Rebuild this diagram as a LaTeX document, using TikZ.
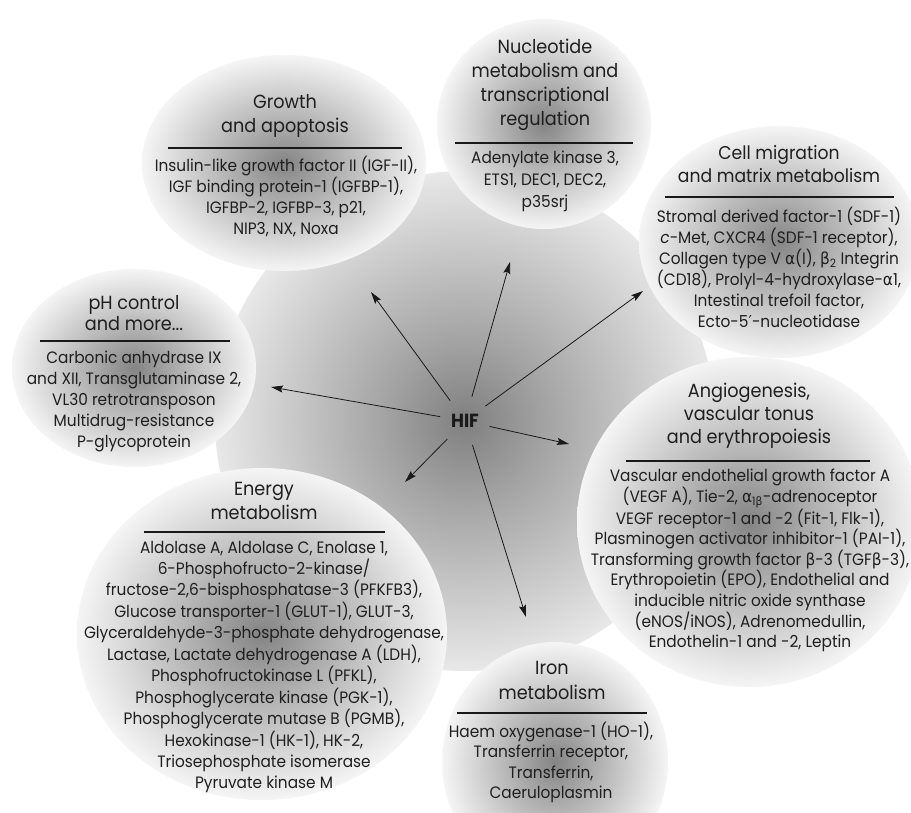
\documentclass[tikz,border=0pt]{standalone}
\usepackage{fontspec}
\setmainfont{Poppins}[FakeStretch=0.93]
\newfontfamily\grk{DejaVu Sans}[FakeStretch=0.93]
\usetikzlibrary{arrows.meta}
\pgfdeclareradialshading{bubble}{\pgfpoint{0bp}{0bp}}{color(0bp)=(black!48); color(10bp)=(black!30); color(25bp)=(black!4); color(50bp)=(black!4)}
\pgfdeclareradialshading{core}{\pgfpoint{0bp}{0bp}}{color(0bp)=(black!50); color(8bp)=(black!36); color(25bp)=(black!9); color(50bp)=(black!9)}
\newcommand{\ga}{{\grk α}}
\newcommand{\gb}{{\grk β}}
\begin{document}
\begin{tikzpicture}[x=1pt,y=-1pt,
  ttl/.style={align=center, text=black!88, inner sep=0pt},
  lst/.style={align=center, text=black!88, inner sep=0pt},
  rulebar/.style={line width=1.3pt, black!90},
  arr/.style={line width=0.8pt, black!90, -{Stealth[length=12pt,width=7pt,inset=2pt]}},
  ]
\useasboundingbox (0,0) rectangle (911,812);
\fill[white] (0,0) rectangle (911,812);
\begin{scope}
\clip (0,0) rectangle (911,812);
\shade[shading=core] (465,421) circle [radius=250];
\shade[shading=bubble] (284,163) ellipse [x radius=142, y radius=108];
\shade[shading=bubble] (544,124) ellipse [x radius=107, y radius=105];
\shade[shading=bubble] (779,242) ellipse [x radius=140, y radius=116];
\shade[shading=bubble] (134,368) ellipse [x radius=122, y radius=99];
\shade[shading=bubble] (749,522) ellipse [x radius=172, y radius=165];
\shade[shading=bubble] (262,634) ellipse [x radius=185, y radius=166];
\shade[shading=bubble] (555,762) ellipse [x radius=113, y radius=120];
\end{scope}

% Growth and apoptosis
\node[ttl, font=\fontsize{19}{24}\selectfont] (grT) at (285,116) {Growth\\and apoptosis};
\draw[rulebar] (168,148) -- (402,148);
\node[lst, font=\fontsize{16.5}{21}\selectfont] (grL) at (286,196.5) {Insulin-like growth factor II (IGF-II),\\IGF binding protein-1 (IGFBP-1),\\IGFBP-2, IGFBP-3, p21,\\NIP3, NX, Noxa};

% Nucleotide
\node[ttl, font=\fontsize{19}{24}\selectfont] (nuT) at (545,85) {Nucleotide\\metabolism and\\transcriptional\\regulation};
\draw[rulebar] (455,143) -- (633,143);
\node[lst, font=\fontsize{16.5}{22}\selectfont] (nuL) at (545,181) {Adenylate kinase 3,\\ETS1, DEC1, DEC2,\\p35srj};

% Cell migration
\node[ttl, font=\fontsize{18.5}{23}\selectfont] (ceT) at (779,164) {Cell migration\\and matrix metabolism};
\draw[rulebar] (665,197) -- (894,197);
\node[lst, font=\fontsize{16.5}{21}\selectfont] (ceL) at (779,267.5) {Stromal derived factor-1 (SDF-1)\\\textit{c}-Met, CXCR4 (SDF-1 receptor),\\Collagen type V \ga(I), \gb\textsubscript{2} Integrin\\(CD18), Prolyl-4-hydroxylase-\ga1,\\Intestinal trefoil factor,\\Ecto-5{\grk ′}-nucleotidase};

% pH control
\node[ttl, font=\fontsize{19}{21}\selectfont] (phT) at (134,313) {pH control\\and more...};
\draw[rulebar] (40,341) -- (230,341);
\node[lst, font=\fontsize{16.5}{20.8}\selectfont] (phL) at (134,401.5) {Carbonic anhydrase IX\\and XII, Transglutaminase 2,\\VL30 retrotransposon\\Multidrug-resistance\\P-glycoprotein};

% Angiogenesis
\node[ttl, font=\fontsize{19}{23}\selectfont] (anT) at (749,416) {Angiogenesis,\\vascular tonus\\and erythropoiesis};
\draw[rulebar] (626,461) -- (870,461);
\node[lst, font=\fontsize{16.5}{20.6}\selectfont] (anL) at (750,560.5) {Vascular endothelial growth factor A\\(VEGF A), Tie-2, \ga\textsubscript{1\gb}-adrenoceptor\\VEGF receptor-1 and -2 (Fit-1, Flk-1),\\Plasminogen activator inhibitor-1 (PAI-1),\\Transforming growth factor \gb-3 (TGF\gb-3),\\Erythropoietin (EPO), Endothelial and\\inducible nitric oxide synthase\\(eNOS/iNOS), Adrenomedullin,\\Endothelin-1 and -2, Leptin};

% Energy metabolism
\node[ttl, font=\fontsize{19}{24}\selectfont] (enT) at (264,501) {Energy\\metabolism};
\draw[rulebar] (144,532) -- (385,532);
\node[lst, font=\fontsize{16.5}{21.45}\selectfont] (enL) at (264,667) {Aldolase A, Aldolase C, Enolase 1,\\6-Phosphofructo-2-kinase/\\fructose-2,6-bisphosphatase-3 (PFKFB3),\\Glucose transporter-1 (GLUT-1), GLUT-3,\\Glyceraldehyde-3-phosphate dehydrogenase,\\Lactase, Lactate dehydrogenase A (LDH),\\Phosphofructokinase L (PFKL),\\Phosphoglycerate kinase (PGK-1),\\Phosphoglycerate mutase B (PGMB),\\Hexokinase-1 (HK-1), HK-2,\\Triosephosphate isomerase\\Pyruvate kinase M};

% Iron metabolism
\node[ttl, font=\fontsize{19}{25}\selectfont] (irT) at (552,680) {Iron\\metabolism};
\draw[rulebar] (457,713) -- (647,713);
\node[lst, font=\fontsize{16.5}{20.3}\selectfont] (irL) at (551,762.5) {Haem oxygenase-1 (HO-1),\\Transferrin receptor,\\Transferrin,\\Caeruloplasmin};

% HIF and arrows
\node[circle, minimum size=50pt, inner sep=0pt, text=black!90, font=\bfseries\fontsize{19}{22}\selectfont] (hif) at (465,421) {HIF};
\coordinate (tgr) at (371,292);
\coordinate (tnu) at (510,262);
\coordinate (tce) at (643,291);
\coordinate (tph) at (271,387);
\coordinate (tan) at (569,444);
\coordinate (ten) at (405,482);
\coordinate (tir) at (526,617);
\draw[arr] (hif) -- (tgr);
\draw[arr] (hif) -- (tnu);
\draw[arr] (hif) -- (tce);
\draw[arr] (hif) -- (tph);
\draw[arr] (hif) -- (tan);
\draw[arr] (hif) -- (ten);
\draw[arr] (hif) -- (tir);
\end{tikzpicture}
\end{document}
